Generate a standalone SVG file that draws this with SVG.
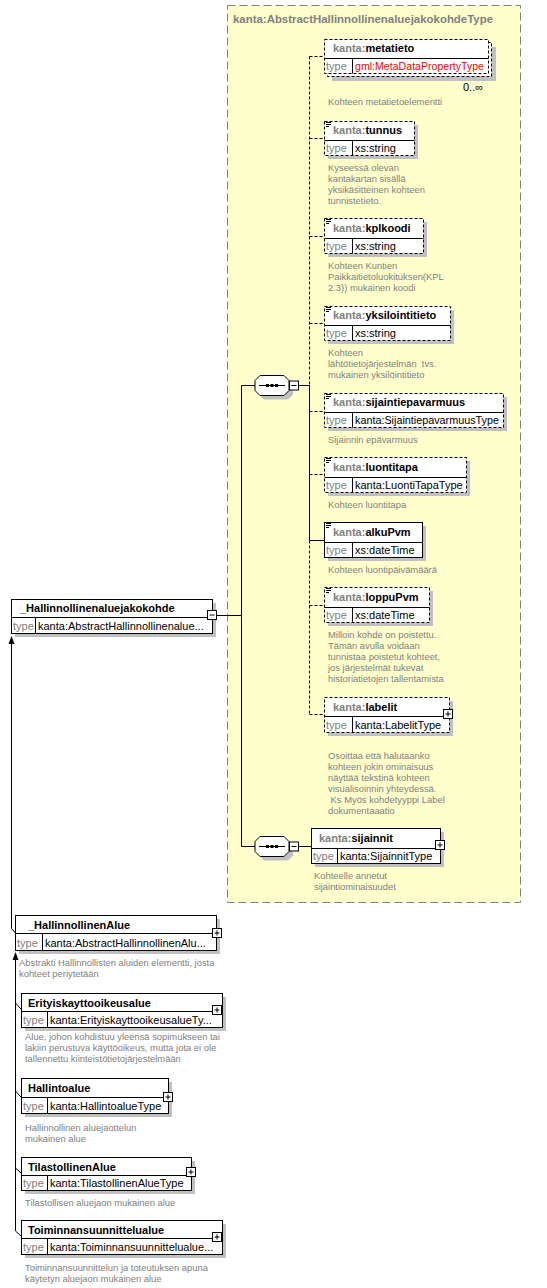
<svg xmlns="http://www.w3.org/2000/svg" width="547" height="1288" viewBox="0 0 547 1288">
<style>
text{font-family:"Liberation Sans",Arial,sans-serif}
.yb{fill:#ffffcc;stroke:#808080;stroke-dasharray:8,4}
.sh{fill:#c0c0c0}
.bx{fill:#fff;stroke:#000}
.op{stroke-dasharray:3,2}
.ln{stroke:#000;fill:none}
.dl{stroke:#000;fill:none;stroke-dasharray:3,2}
.hd{font-size:11px;font-weight:bold;fill:#000}
.ns{fill:#808080}
.tl{font-size:11px;fill:#808080}
.tv{font-size:11px;fill:#000}
.ds{font-size:9.4px;fill:#808080}
.ttl{font-size:11px;font-weight:bold;fill:#808080}
.ic{stroke:#000;stroke-width:1}
</style>
<defs>
<g id="seq">
<polygon class="sh" points="9,-6 33,-6 38,-1 38,9 33,14 9,14 4,9 4,-1"/>
<polygon class="bx" points="5,-10 29,-10 34,-5 34,5 29,10 5,10 0,5 0,-5"/>
<line class="ln" x1="4" y1="0" x2="30" y2="0"/>
<rect x="11" y="-1.5" width="3" height="3" fill="#000"/>
<rect x="15.5" y="-1.5" width="3" height="3" fill="#000"/>
<rect x="20" y="-1.5" width="3" height="3" fill="#000"/>
<rect class="bx" x="34.5" y="-4.5" width="9" height="9"/>
<line class="ln" x1="36.5" y1="0" x2="41.5" y2="0"/>
</g>
<g id="plus">
<rect class="bx" x="0.5" y="0.5" width="9" height="9"/>
<line class="ln" x1="2.5" y1="5" x2="7.5" y2="5"/>
<line class="ln" x1="5" y1="2.5" x2="5" y2="7.5"/>
</g>
<g id="minus">
<rect class="bx" x="0.5" y="0.5" width="9" height="9"/>
<line class="ln" x1="2.5" y1="5" x2="7.5" y2="5"/>
</g>
<path id="eq" class="ic" d="M326 122.5h5M326 124.5h5M326 126.5h3" fill="none"/>
</defs>

<g id="complexType">
<rect class="yb" x="227.5" y="5.5" width="293" height="897"/>
<text class="ttl" x="233" y="23" textLength="260" lengthAdjust="spacingAndGlyphs">kanta:AbstractHallinnollinenaluejakokohdeType</text>
</g>

<g id="connectors">
<line class="ln" x1="217" y1="615.5" x2="241.5" y2="615.5"/>
<line class="ln" x1="241.5" y1="385.5" x2="241.5" y2="846.5"/>
<line class="ln" x1="241.5" y1="385.5" x2="255" y2="385.5"/>
<line class="ln" x1="241.5" y1="846.5" x2="255" y2="846.5"/>
<line class="ln" x1="299" y1="385.5" x2="309.5" y2="385.5"/>
<line class="ln" x1="299" y1="846.5" x2="311" y2="846.5"/>
<line class="dl" x1="309.5" y1="56.5" x2="309.5" y2="385.5"/>
<line class="ln" x1="309.5" y1="385.5" x2="309.5" y2="540.5"/>
<line class="dl" x1="309.5" y1="540.5" x2="309.5" y2="714.5"/>
<line class="dl" x1="309.5" y1="56.5" x2="324" y2="56.5"/>
<line class="dl" x1="309.5" y1="138.5" x2="324" y2="138.5"/>
<line class="dl" x1="309.5" y1="236.5" x2="324" y2="236.5"/>
<line class="dl" x1="309.5" y1="323.5" x2="324" y2="323.5"/>
<line class="dl" x1="309.5" y1="411.5" x2="324" y2="411.5"/>
<line class="dl" x1="309.5" y1="474.5" x2="324" y2="474.5"/>
<line class="ln" x1="309.5" y1="540.5" x2="324" y2="540.5"/>
<line class="dl" x1="309.5" y1="605.5" x2="324" y2="605.5"/>
<line class="dl" x1="309.5" y1="714.5" x2="324" y2="714.5"/>
<line class="ln" x1="477" y1="77" x2="483" y2="80"/>
<polyline class="ln" points="11.5,640 11.5,928.5 15.5,933"/>
<polygon points="11.5,636 8.5,644 14.5,644" fill="#000"/>
<polyline class="ln" points="15.5,956 15.5,1231 21,1236"/>
<polygon points="15.5,952 12.5,960 18.5,960" fill="#000"/>
<line class="ln" x1="15.5" y1="1003" x2="21" y2="1009"/>
<line class="ln" x1="15.5" y1="1091" x2="21" y2="1097"/>
<line class="ln" x1="15.5" y1="1168" x2="21" y2="1173"/>
</g>

<use href="#seq" x="255" y="385.5"/>
<use href="#seq" x="255" y="846.5"/>

<g id="metatieto">
<rect class="sh" x="332" y="47" width="164" height="34"/>
<rect class="bx op" x="327.5" y="42.5" width="164" height="34"/>
<rect class="bx op" x="324.5" y="39.5" width="164" height="34"/>
<line class="ln" x1="324.5" y1="58.5" x2="488.5" y2="58.5"/>
<line class="ln" x1="352.5" y1="58.5" x2="352.5" y2="73.5"/>
<text class="hd" x="333" y="52"><tspan class="ns">kanta:</tspan>metatieto</text>
<text class="tl" x="326" y="70">type</text>
<text class="tv" x="355" y="70" style="fill:#ff0000" textLength="129" lengthAdjust="spacingAndGlyphs">gml:MetaDataPropertyType</text>
<text x="463" y="91" style="font-size:11px">0..∞</text>
<text class="ds" x="328" y="105">Kohteen metatietoelementti</text>
</g>

<g id="tunnus">
<rect class="sh" x="328" y="125" width="90" height="34"/>
<rect class="bx op" x="324.5" y="121.5" width="90" height="34"/>
<line class="ln" x1="324.5" y1="140.5" x2="414.5" y2="140.5"/>
<line class="ln" x1="352.5" y1="140.5" x2="352.5" y2="155.5"/>
<use href="#eq" y="0"/>
<text class="hd" x="333" y="134"><tspan class="ns">kanta:</tspan>tunnus</text>
<text class="tl" x="326" y="152">type</text>
<text class="tv" x="355" y="152">xs:string</text>
<text class="ds" x="328" y="171">Kyseessä olevan</text>
<text class="ds" x="328" y="182">kantakartan sisällä</text>
<text class="ds" x="328" y="193">yksikäsitteinen kohteen</text>
<text class="ds" x="328" y="204">tunnistetieto.</text>
</g>

<g id="kplkoodi">
<rect class="sh" x="328" y="222" width="99" height="35"/>
<rect class="bx op" x="324.5" y="218.5" width="99" height="35"/>
<line class="ln" x1="324.5" y1="238.5" x2="423.5" y2="238.5"/>
<line class="ln" x1="352.5" y1="238.5" x2="352.5" y2="253.5"/>
<use href="#eq" y="97"/>
<text class="hd" x="333" y="232"><tspan class="ns">kanta:</tspan>kplkoodi</text>
<text class="tl" x="326" y="250">type</text>
<text class="tv" x="355" y="250">xs:string</text>
<text class="ds" x="328" y="269">Kohteen Kuntien</text>
<text class="ds" x="328" y="280">Paikkaitietoluokituksen(KPL</text>
<text class="ds" x="328" y="291">2.3)) mukainen koodi</text>
</g>

<g id="yksilointitieto">
<rect class="sh" x="328" y="310" width="126" height="34"/>
<rect class="bx op" x="324.5" y="306.5" width="126" height="34"/>
<line class="ln" x1="324.5" y1="325.5" x2="450.5" y2="325.5"/>
<line class="ln" x1="352.5" y1="325.5" x2="352.5" y2="340.5"/>
<use href="#eq" y="185"/>
<text class="hd" x="333" y="319"><tspan class="ns">kanta:</tspan>yksilointitieto</text>
<text class="tl" x="326" y="337">type</text>
<text class="tv" x="355" y="337">xs:string</text>
<text class="ds" x="328" y="356">Kohteen</text>
<text class="ds" x="328" y="367" xml:space="preserve">lähtötietojärjestelmän  tvs.</text>
<text class="ds" x="328" y="378">mukainen yksilöintitieto</text>
</g>

<g id="sijaintiepavarmuus">
<rect class="sh" x="328" y="397" width="179" height="34"/>
<rect class="bx op" x="324.5" y="393.5" width="179" height="34"/>
<line class="ln" x1="324.5" y1="412.5" x2="503.5" y2="412.5"/>
<line class="ln" x1="352.5" y1="412.5" x2="352.5" y2="427.5"/>
<use href="#eq" y="272"/>
<text class="hd" x="333" y="406"><tspan class="ns">kanta:</tspan>sijaintiepavarmuus</text>
<text class="tl" x="326" y="424">type</text>
<text class="tv" x="355" y="424" textLength="144" lengthAdjust="spacingAndGlyphs">kanta:SijaintiepavarmuusType</text>
<text class="ds" x="328" y="443">Sijainnin epävarmuus</text>
</g>

<g id="luontitapa">
<rect class="sh" x="328" y="461" width="142" height="35"/>
<rect class="bx op" x="324.5" y="457.5" width="142" height="35"/>
<line class="ln" x1="324.5" y1="477.5" x2="466.5" y2="477.5"/>
<line class="ln" x1="352.5" y1="477.5" x2="352.5" y2="492.5"/>
<use href="#eq" y="336"/>
<text class="hd" x="333" y="471"><tspan class="ns">kanta:</tspan>luontitapa</text>
<text class="tl" x="326" y="489">type</text>
<text class="tv" x="355" y="489">kanta:LuontiTapaType</text>
<text class="ds" x="328" y="508">Kohteen luontitapa</text>
</g>

<g id="alkuPvm">
<rect class="sh" x="328" y="526" width="98" height="35"/>
<rect class="bx" x="324.5" y="522.5" width="98" height="35"/>
<line class="ln" x1="324.5" y1="542.5" x2="422.5" y2="542.5"/>
<line class="ln" x1="352.5" y1="542.5" x2="352.5" y2="557.5"/>
<use href="#eq" y="401"/>
<text class="hd" x="333" y="536"><tspan class="ns">kanta:</tspan>alkuPvm</text>
<text class="tl" x="326" y="554">type</text>
<text class="tv" x="355" y="554">xs:dateTime</text>
<text class="ds" x="328" y="573">Kohteen luontipäivämäärä</text>
</g>

<g id="loppuPvm">
<rect class="sh" x="328" y="591" width="105" height="35"/>
<rect class="bx op" x="324.5" y="587.5" width="105" height="35"/>
<line class="ln" x1="324.5" y1="607.5" x2="429.5" y2="607.5"/>
<line class="ln" x1="352.5" y1="607.5" x2="352.5" y2="622.5"/>
<use href="#eq" y="466"/>
<text class="hd" x="333" y="601"><tspan class="ns">kanta:</tspan>loppuPvm</text>
<text class="tl" x="326" y="619">type</text>
<text class="tv" x="355" y="619">xs:dateTime</text>
<text class="ds" x="328" y="638">Milloin kohde on poistettu.</text>
<text class="ds" x="328" y="649">Tämän avulla voidaan</text>
<text class="ds" x="328" y="660">tunnistaa poistetut kohteet,</text>
<text class="ds" x="328" y="671">jos järjestelmät tukevat</text>
<text class="ds" x="328" y="682">historiatietojen tallentamista</text>
</g>

<g id="labelit">
<rect class="sh" x="328" y="701" width="125" height="35"/>
<rect class="bx op" x="324.5" y="697.5" width="125" height="35"/>
<line class="ln" x1="324.5" y1="716.5" x2="449.5" y2="716.5"/>
<line class="ln" x1="352.5" y1="716.5" x2="352.5" y2="732.5"/>
<text class="hd" x="333" y="711"><tspan class="ns">kanta:</tspan>labelit</text>
<text class="tl" x="326" y="729">type</text>
<text class="tv" x="355" y="729">kanta:LabelitType</text>
<use href="#plus" x="443" y="709"/>
<text class="ds" x="328" y="759">Osoittaa että halutaanko</text>
<text class="ds" x="328" y="770">kohteen jokin ominaisuus</text>
<text class="ds" x="328" y="781">näyttää tekstinä kohteen</text>
<text class="ds" x="328" y="792">visualisoinnin yhteydessä.</text>
<text class="ds" x="328" y="803" xml:space="preserve"> Ks Myös kohdetyyppi Label</text>
<text class="ds" x="328" y="814">dokumentaaatio</text>
</g>

<g id="sijainnit">
<rect class="sh" x="315" y="832" width="129" height="35"/>
<rect class="bx" x="311.5" y="828.5" width="129" height="35"/>
<line class="ln" x1="311.5" y1="848.5" x2="440.5" y2="848.5"/>
<line class="ln" x1="337.5" y1="848.5" x2="337.5" y2="863.5"/>
<text class="hd" x="319" y="842"><tspan class="ns">kanta:</tspan>sijainnit</text>
<text class="tl" x="313" y="860">type</text>
<text class="tv" x="340" y="860">kanta:SijainnitType</text>
<use href="#plus" x="435" y="840"/>
<text class="ds" x="314" y="879">Kohteelle annetut</text>
<text class="ds" x="314" y="890">sijaintiominaisuudet</text>
</g>

<g id="Hallinnollinenaluejakokohde">
<rect class="sh" x="15" y="603" width="201" height="34"/>
<rect class="bx" x="11.5" y="599.5" width="201" height="34"/>
<line class="ln" x1="11.5" y1="617.5" x2="212.5" y2="617.5"/>
<line class="ln" x1="35.5" y1="617.5" x2="35.5" y2="633.5"/>
<text class="hd" x="20" y="612">_Hallinnollinenaluejakokohde</text>
<text class="tl" x="13" y="630">type</text>
<text class="tv" x="38" y="630">kanta:AbstractHallinnollinenalue...</text>
<use href="#minus" x="207" y="610"/>
</g>

<g id="HallinnollinenAlue">
<rect class="sh" x="19" y="919" width="201" height="35"/>
<rect class="bx" x="15.5" y="915.5" width="201" height="35"/>
<line class="ln" x1="15.5" y1="933.5" x2="216.5" y2="933.5"/>
<line class="ln" x1="42.5" y1="933.5" x2="42.5" y2="950.5"/>
<text class="hd" x="28" y="929">_HallinnollinenAlue</text>
<text class="tl" x="17" y="947">type</text>
<text class="tv" x="45" y="947">kanta:AbstractHallinnollinenAlu...</text>
<use href="#plus" x="212" y="928"/>
<text class="ds" x="19" y="966">Abstrakti Hallinnollisten aluiden elementti, josta</text>
<text class="ds" x="19" y="977">kohteet periytetään</text>
</g>

<g id="Erityiskayttooikeusalue">
<rect class="sh" x="25" y="997" width="201" height="34"/>
<rect class="bx" x="21.5" y="993.5" width="201" height="34"/>
<line class="ln" x1="21.5" y1="1011.5" x2="222.5" y2="1011.5"/>
<line class="ln" x1="47.5" y1="1011.5" x2="47.5" y2="1027.5"/>
<text class="hd" x="28" y="1007">Erityiskayttooikeusalue</text>
<text class="tl" x="23" y="1024">type</text>
<text class="tv" x="50" y="1024">kanta:ErityiskayttooikeusalueTy...</text>
<use href="#plus" x="212" y="1005"/>
<text class="ds" x="25" y="1040">Alue, johon kohdistuu yleensä sopimukseen tai</text>
<text class="ds" x="25" y="1051">lakiin perustuva käyttöoikeus, mutta jota ei ole</text>
<text class="ds" x="25" y="1062">tallennettu kiinteistötietojärjestelmään</text>
</g>

<g id="Hallintoalue">
<rect class="sh" x="25" y="1082" width="147" height="35"/>
<rect class="bx" x="21.5" y="1078.5" width="147" height="35"/>
<line class="ln" x1="21.5" y1="1097.5" x2="168.5" y2="1097.5"/>
<line class="ln" x1="47.5" y1="1097.5" x2="47.5" y2="1113.5"/>
<text class="hd" x="28" y="1092">Hallintoalue</text>
<text class="tl" x="23" y="1110">type</text>
<text class="tv" x="50" y="1110">kanta:HallintoalueType</text>
<use href="#plus" x="163" y="1092"/>
<text class="ds" x="25" y="1131">Hallinnollinen aluejaottelun</text>
<text class="ds" x="25" y="1142">mukainen alue</text>
</g>

<g id="TilastollinenAlue">
<rect class="sh" x="25" y="1161" width="170" height="33"/>
<rect class="bx" x="21.5" y="1157.5" width="170" height="33"/>
<line class="ln" x1="21.5" y1="1175.5" x2="191.5" y2="1175.5"/>
<line class="ln" x1="47.5" y1="1175.5" x2="47.5" y2="1190.5"/>
<text class="hd" x="28" y="1171">TilastollinenAlue</text>
<text class="tl" x="23" y="1187">type</text>
<text class="tv" x="50" y="1187">kanta:TilastollinenAlueType</text>
<use href="#plus" x="186" y="1167"/>
<text class="ds" x="25" y="1206">Tilastollisen aluejaon mukainen alue</text>
</g>

<g id="Toiminnansuunnittelualue">
<rect class="sh" x="25" y="1224" width="201" height="34"/>
<rect class="bx" x="21.5" y="1220.5" width="201" height="34"/>
<line class="ln" x1="21.5" y1="1238.5" x2="222.5" y2="1238.5"/>
<line class="ln" x1="47.5" y1="1238.5" x2="47.5" y2="1254.5"/>
<text class="hd" x="28" y="1234">Toiminnansuunnittelualue</text>
<text class="tl" x="23" y="1251">type</text>
<text class="tv" x="50" y="1251">kanta:Toiminnansuunnittelualue...</text>
<use href="#plus" x="212" y="1232"/>
<text class="ds" x="25" y="1271">Toiminnansuunnittelun ja toteutuksen apuna</text>
<text class="ds" x="25" y="1282">käytetyn aluejaon mukainen alue</text>
</g>
</svg>
